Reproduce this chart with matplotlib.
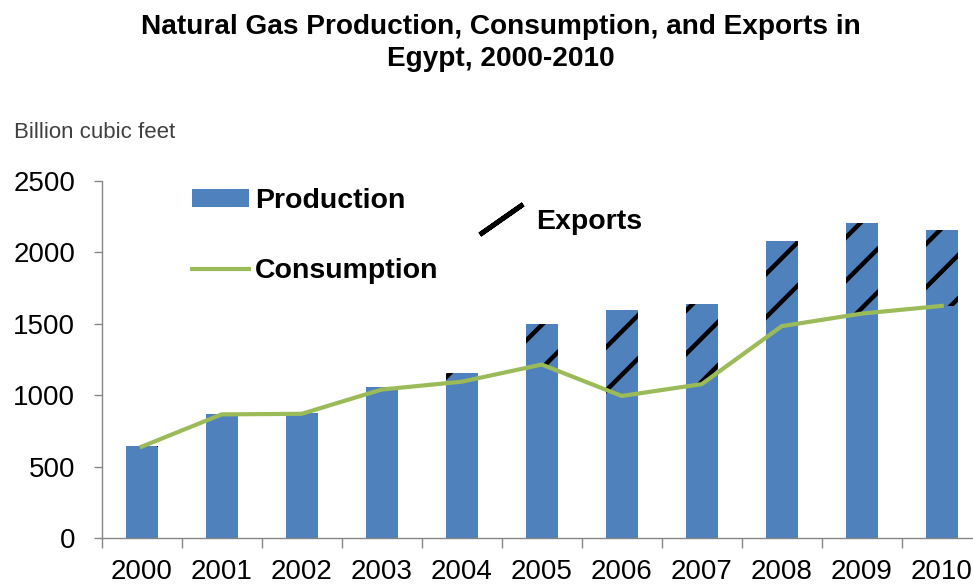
import matplotlib.pyplot as plt
import numpy as np
from matplotlib.lines import Line2D
from matplotlib.patches import Patch

# hatch tiles are one inch wide, so a higher dpi gives wider-spaced slashes;
# point sizes are scaled back so everything else keeps its pixel size
DPI = 130
k = 100 / DPI

plt.rcParams['font.family'] = ['Liberation Sans', 'DejaVu Sans']
plt.rcParams['hatch.linewidth'] = 3.2 * k

years = ['2000', '2001', '2002', '2003', '2004', '2005', '2006', '2007', '2008', '2009', '2010']
production = np.array([646, 868, 873, 1060, 1155, 1500, 1595, 1640, 2080, 2205, 2158])
consumption = np.array([640, 866, 870, 1040, 1095, 1215, 995, 1078, 1484, 1572, 1626])
exports = np.clip(production - consumption, 0, None)

blue = '#4F81BD'
green = '#9BBB59'
grey = '#868686'

fig = plt.figure(figsize=(973 / DPI, 588 / DPI), dpi=DPI)
ax = fig.add_axes([0.1045, 0.085, 0.9045, 0.607])

x = np.arange(len(years))
ax.bar(x, production, width=0.4, color=blue, zorder=2)
ax.bar(x, exports, width=0.4, bottom=consumption, fill=False, hatch='/',
       edgecolor='black', linewidth=0, zorder=3)
ax.plot(x, consumption, color=green, lw=3 * k, zorder=4)

ax.set_xlim(-0.5, len(years) - 0.5)
ax.set_ylim(0, 2500)
ax.set_yticks([0, 500, 1000, 1500, 2000, 2500])
ax.set_xticks(x)
ax.set_xticklabels(years)
ax.set_xticks(np.arange(len(years) + 1) - 0.5, minor=True)
ax.tick_params(axis='x', which='major', length=0, labelsize=20 * k, pad=15 * k)
ax.tick_params(axis='x', which='minor', length=7 * k, color=grey, width=k)
ax.tick_params(axis='y', length=6 * k, color=grey, width=k, labelsize=20 * k, pad=13 * k)

for s in ['top', 'right']:
    ax.spines[s].set_visible(False)
for s in ['left', 'bottom']:
    ax.spines[s].set_color(grey)
    ax.spines[s].set_linewidth(k)

fig.text(0.515, 1 - 43 / 588, 'Natural Gas Production, Consumption, and Exports in\nEgypt, 2000-2010',
         ha='center', va='center', fontsize=20.2 * k, fontweight='bold', linespacing=1.25)
fig.text(0.014, 1 - 132 / 588, 'Billion cubic feet', fontsize=16 * k, color='#404040', va='center')

legend_font = {'weight': 'bold', 'size': 20.5 * k}
h1 = [Patch(facecolor=blue), Line2D([], [], color=green, lw=3 * k)]
leg1 = fig.legend(h1, ['Production', 'Consumption'], loc='upper left',
                  bbox_to_anchor=(192 / 973, 1 - 188 / 588), frameon=False,
                  prop=legend_font, handlelength=2.0,
                  handleheight=0.58, handletextpad=0.2, labelspacing=1.55,
                  borderpad=0, borderaxespad=0)
h2 = [Line2D([], [], color='black', marker=(2, 2, -55), markersize=38 * k,
             markeredgewidth=3.5 * k, linestyle='none')]
leg2 = fig.legend(h2, ['Exports'], loc='upper left',
                  bbox_to_anchor=(478 / 973, 1 - 209 / 588), frameon=False,
                  prop=legend_font, handlelength=1.6,
                  handletextpad=0.45, borderpad=0, borderaxespad=0)

fig.savefig('out.png', dpi=DPI)
